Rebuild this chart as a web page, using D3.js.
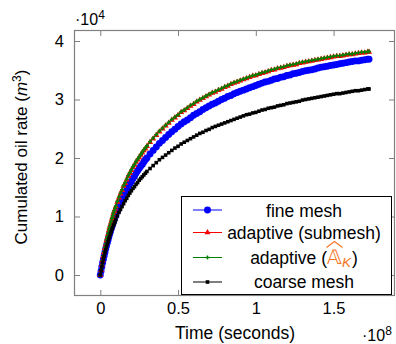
<!DOCTYPE html>
<html><head><meta charset="utf-8">
<script src="https://cdn.jsdelivr.net/npm/d3@7"></script>
<style>
body{margin:0;background:#fff}
svg{display:block}
text{font-family:"Liberation Sans",Arial,Helvetica,sans-serif}
</style>
</head><body>
<svg id="chart" width="396" height="344"></svg>
<script>
// time in units of 1e8 seconds
const time = [0,0.005,0.01,0.015,0.02,0.025,0.03,0.035,0.04,0.045,
0.05,0.055,0.06,0.065,0.07,0.075,0.08,0.085,0.09,0.095,
0.10,0.11,0.12,0.13,0.14,0.15,0.16,0.17,0.18,0.19,
0.20,0.21,0.22,0.23,0.24,0.25,0.26,0.27,0.28,0.29,
0.30,0.32,0.34,0.36,0.38,
0.40,0.42,0.44,0.46,0.48,0.50,0.52,0.54,0.56,0.58,
0.60,0.62,0.64,0.66,0.68,0.70,0.72,0.74,0.76,0.78,
0.80,0.82,0.84,0.86,0.88,0.90,0.92,0.94,0.96,0.98,
1.00,1.02,1.04,1.06,1.08,1.10,1.12,1.14,1.16,1.18,
1.20,1.22,1.24,1.26,1.28,1.30,1.32,1.34,1.36,1.38,
1.40,1.42,1.44,1.46,1.48,1.50,1.52,1.54,1.56,1.58,
1.60,1.62,1.64,1.66,1.68,1.70,1.72,1.728];

// cumulated oil, units of 1e4 m^3
const fineMesh = [0,0.07,0.14,0.21,0.27,0.33,0.39,0.45,0.50,0.55,
0.60,0.65,0.70,0.74,0.79,0.83,0.87,0.91,0.95,0.99,
1.02,1.09,1.16,1.23,1.29,1.34,1.40,1.45,1.51,1.56,
1.60,1.65,1.69,1.74,1.78,1.82,1.86,1.89,1.93,1.97,
2.00,2.07,2.13,2.19,2.25,
2.30,2.35,2.40,2.45,2.49,2.54,2.58,2.62,2.65,2.69,
2.73,2.76,2.79,2.83,2.86,2.89,2.92,2.94,2.97,3.00,
3.02,3.05,3.07,3.10,3.12,3.14,3.16,3.18,3.20,3.22,
3.24,3.26,3.28,3.30,3.31,3.33,3.35,3.36,3.38,3.39,
3.41,3.42,3.44,3.45,3.46,3.48,3.49,3.50,3.51,3.52,
3.54,3.55,3.56,3.57,3.58,3.59,3.60,3.61,3.62,3.63,
3.64,3.65,3.66,3.66,3.67,3.68,3.69,3.69];

const adaptiveSubmesh = [0,0.08,0.17,0.25,0.32,0.39,0.46,0.52,0.59,0.64,
0.70,0.76,0.81,0.86,0.91,0.96,1.00,1.05,1.09,1.13,
1.17,1.25,1.32,1.39,1.45,1.52,1.57,1.63,1.69,1.74,
1.79,1.84,1.88,1.93,1.97,2.01,2.05,2.09,2.13,2.16,
2.20,2.27,2.33,2.39,2.45,
2.50,2.55,2.60,2.65,2.69,2.73,2.78,2.81,2.85,2.89,
2.92,2.96,2.99,3.02,3.05,3.08,3.11,3.13,3.16,3.18,
3.21,3.23,3.26,3.28,3.30,3.32,3.34,3.36,3.38,3.40,
3.41,3.43,3.45,3.46,3.48,3.50,3.51,3.53,3.54,3.55,
3.57,3.58,3.59,3.60,3.62,3.63,3.64,3.65,3.66,3.67,
3.68,3.69,3.70,3.71,3.72,3.73,3.74,3.74,3.75,3.76,
3.77,3.77,3.78,3.79,3.80,3.80,3.81,3.81];

const adaptiveAK = [0,0.09,0.17,0.25,0.33,0.40,0.47,0.53,0.60,0.65,
0.71,0.77,0.82,0.87,0.92,0.97,1.01,1.06,1.10,1.14,
1.18,1.26,1.33,1.40,1.46,1.53,1.58,1.64,1.70,1.75,
1.80,1.85,1.89,1.94,1.98,2.02,2.06,2.10,2.14,2.17,
2.21,2.28,2.34,2.40,2.46,
2.51,2.56,2.61,2.66,2.70,2.74,2.79,2.82,2.86,2.90,
2.93,2.97,3.00,3.03,3.06,3.09,3.12,3.14,3.17,3.19,
3.22,3.24,3.27,3.29,3.31,3.33,3.35,3.37,3.39,3.41,
3.42,3.44,3.46,3.47,3.49,3.51,3.52,3.54,3.55,3.56,
3.58,3.59,3.60,3.61,3.63,3.64,3.65,3.66,3.67,3.68,
3.69,3.70,3.71,3.72,3.73,3.74,3.75,3.75,3.76,3.77,
3.78,3.78,3.79,3.80,3.81,3.81,3.82,3.82];

const coarseMesh = [0,0.07,0.14,0.21,0.27,0.32,0.38,0.43,0.48,0.53,
0.57,0.62,0.66,0.70,0.74,0.78,0.81,0.85,0.88,0.91,
0.95,1.01,1.07,1.12,1.17,1.22,1.27,1.31,1.36,1.40,
1.44,1.48,1.51,1.55,1.58,1.62,1.65,1.68,1.71,1.74,
1.77,1.82,1.87,1.92,1.97,
2.01,2.05,2.09,2.13,2.17,2.20,2.24,2.27,2.30,2.33,
2.36,2.39,2.42,2.44,2.47,2.49,2.52,2.54,2.56,2.58,
2.60,2.62,2.64,2.66,2.68,2.70,2.72,2.74,2.75,2.77,
2.78,2.80,2.82,2.83,2.85,2.86,2.87,2.89,2.90,2.91,
2.93,2.94,2.95,2.96,2.97,2.99,3.00,3.01,3.02,3.03,
3.04,3.05,3.06,3.07,3.08,3.09,3.10,3.10,3.11,3.12,
3.13,3.14,3.15,3.15,3.16,3.17,3.18,3.18];

const xTicks = [0, 0.5, 1, 1.5];
const yTicks = [0, 1, 2, 3, 4];
const xDomain = [-0.169, 1.895];
const yDomain = [-0.359, 4.188];

(function(){
const ORANGE = "#f47321";
const series = [
  {name:"fine mesh", values:fineMesh, color:"#0000ff", symbol:d3.symbolCircle, size:38},
  {name:"adaptive (submesh)", values:adaptiveSubmesh, color:"#ff0000", symbol:d3.symbolTriangle, size:16},
  {name:"adaptive", values:adaptiveAK, color:"#008000", symbol:d3.symbolCross, size:9},
  {name:"coarse mesh", values:coarseMesh, color:"#000000", symbol:d3.symbolSquare, size:13}
];

const svg = d3.select("#chart");
const pL=74, pR=395, pT=30, pB=296;
const x = d3.scaleLinear().domain(xDomain).range([pL, pR]);
const y = d3.scaleLinear().domain(yDomain).range([pB, pT]);
const GRAY = "#808080";

function styleAxis(g, fs){
  g.select(".domain").remove();
  g.selectAll(".tick line").attr("stroke", GRAY);
  g.selectAll(".tick text").attr("fill","#000").attr("font-size", fs)
   .attr("font-family",'"Liberation Sans",Arial,sans-serif');
}
svg.append("g").attr("transform",`translate(0,${pB})`)
  .call(d3.axisBottom(x).tickValues(xTicks).tickSizeInner(-6).tickSizeOuter(0).tickPadding(6).tickFormat(d3.format("")))
  .call(g=>styleAxis(g,16.5));
svg.append("g").attr("transform",`translate(0,${pT})`)
  .call(d3.axisTop(x).tickValues(xTicks).tickSizeInner(-6).tickSizeOuter(0).tickFormat(""))
  .call(g=>styleAxis(g,16.5));
svg.append("g").attr("transform",`translate(${pL},0)`)
  .call(d3.axisLeft(y).tickValues(yTicks).tickSizeInner(-6).tickSizeOuter(0).tickPadding(10).tickFormat(d3.format("d")))
  .call(g=>styleAxis(g,16.5));
svg.append("g").attr("transform",`translate(${pR},0)`)
  .call(d3.axisRight(y).tickValues(yTicks).tickSizeInner(-6).tickSizeOuter(0).tickFormat(""))
  .call(g=>styleAxis(g,16.5));

svg.append("rect").attr("x",pL+0.5).attr("y",pT+0.5)
  .attr("width",pR-pL-1).attr("height",pB-pT-1)
  .attr("fill","none").attr("stroke",GRAY).attr("stroke-width",1.2);

const plot = svg.append("g");
series.forEach(s=>{
  const line = d3.line().x((d,i)=>x(time[i])).y(d=>y(d));
  plot.append("path").datum(s.values).attr("d",line)
    .attr("fill","none").attr("stroke",s.color).attr("stroke-width",1);
  const sym = d3.symbol().type(s.symbol).size(s.size);
  plot.append("g").selectAll("path").data(s.values).join("path")
    .attr("transform",(d,i)=>`translate(${x(time[i])},${y(d)})`)
    .attr("d",sym).attr("fill",s.color);
});

const lg = svg.append("g");
lg.append("rect").attr("x",181.5).attr("y",196.5).attr("width",210).attr("height",98)
  .attr("fill","#fff").attr("stroke","#000").attr("stroke-width",1);
const rowLineY = [210, 232.5, 257.5, 282];
const rowTextY = [216.5, 238.5, 263.5, 288];
const textCX = 304;
series.forEach((s,k)=>{
  lg.append("line").attr("x1",193).attr("x2",222).attr("y1",rowLineY[k]).attr("y2",rowLineY[k])
    .attr("stroke",s.color).attr("stroke-width",1);
  lg.append("path").attr("transform",`translate(207.5,${rowLineY[k]})`)
    .attr("d",d3.symbol().type(s.symbol).size(s.size)).attr("fill",s.color);
  if(k!==2){
    lg.append("text").attr("x",textCX).attr("y",rowTextY[k]).attr("text-anchor","middle")
      .attr("font-size",17.5).attr("fill","#000").text(s.name);
  }
});
{
  const by = rowTextY[2];
  const parts = [
    {t:"adaptive (", fill:"#000", fs:17.5, dy:0},
    {t:"\u{1D538}", fill:ORANGE, fs:20, dy:0, ff:'"DejaVu Sans",sans-serif', hat:true},
    {t:"K", fill:ORANGE, fs:13.5, dy:3, italic:true},
    {t:")", fill:"#000", fs:17.5, dy:0}
  ];
  const els = parts.map(p=>{
    const e = lg.append("text").attr("y",by+p.dy).attr("font-size",p.fs).attr("fill",p.fill).text(p.t);
    if(p.ff) e.attr("font-family",p.ff);
    if(p.italic) e.attr("font-style","italic");
    return e;
  });
  const widths = els.map(e=>e.node().getComputedTextLength());
  const total = d3.sum(widths) + 1;
  let cx = textCX - total/2;
  els.forEach((e,i)=>{
    e.attr("x",cx);
    if(parts[i].hat){
      const w = widths[i];
      lg.append("path").attr("d",`M${cx-0.5},${by-16} L${cx+w/2},${by-22} L${cx+w+0.5},${by-16}`)
        .attr("fill","none").attr("stroke",ORANGE).attr("stroke-width",1.1);
    }
    cx += widths[i] + (i===2?1:0);
  });
}

svg.append("text").attr("x",235).attr("y",339).attr("text-anchor","middle")
  .attr("font-size",17.5).attr("fill","#000").text("Time (seconds)");
const yt = svg.append("text").attr("transform","translate(27,157) rotate(-90)")
  .attr("text-anchor","middle").attr("font-size",17).attr("fill","#000");
yt.append("tspan").text("Cumulated oil rate (");
yt.append("tspan").attr("font-style","italic").text("m");
yt.append("tspan").attr("dy",-6).attr("font-size",12).text("3");
yt.append("tspan").attr("dy",6).text(")");

const m8 = svg.append("text").attr("x",362).attr("y",341).attr("font-size",16).attr("fill","#000");
m8.append("tspan").text("\u00B710");
m8.append("tspan").attr("dy",-6).attr("font-size",12).text("8");
const m4 = svg.append("text").attr("x",75).attr("y",25).attr("font-size",16).attr("fill","#000");
m4.append("tspan").text("\u00B710");
m4.append("tspan").attr("dy",-6).attr("font-size",12).text("4");
})();
</script>
</body></html>
